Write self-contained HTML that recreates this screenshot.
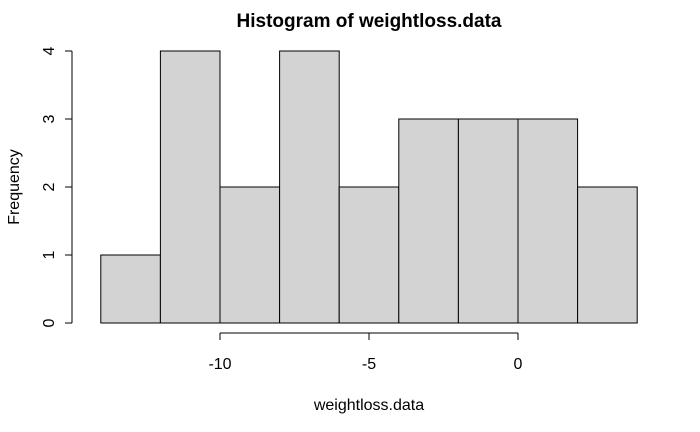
<!DOCTYPE html>
<html><head><meta charset="utf-8"><style>
body{margin:0;background:#fff}
svg{display:block;font-family:"Liberation Sans",Arial,sans-serif}
</style></head><body>
<svg id="chart" width="700" height="432" viewBox="0 0 700 432" xmlns="http://www.w3.org/2000/svg">
<text x="369" y="27" text-anchor="middle" font-size="19" font-weight="bold">Histogram of weightloss.data</text>
<text x="369" y="410" text-anchor="middle" font-size="16">weightloss.data</text>
<text transform="translate(19,187) rotate(-90)" text-anchor="middle" font-size="16">Frequency</text>
<g id="bars"></g>
<g id="xaxis"></g>
<g id="yaxis"></g>
</svg>
<script>
const binStarts = [-14,-12,-10,-8,-6,-4,-2,0,2];
const binWidth = 2;
const counts = [1,4,2,4,2,3,3,3,2];
const xTicks = [-10,-5,0];
const yTicks = [0,1,2,3,4];
const NS="http://www.w3.org/2000/svg";
function xs(v){return 518 + v*29.8;}
function ys(v){return 323 - v*68;}
function mk(tag,attrs,parent){const e=document.createElementNS(NS,tag);for(const k in attrs)e.setAttribute(k,attrs[k]);parent.appendChild(e);return e;}
const bars=document.getElementById('bars');
counts.forEach((c,i)=>{
  const x0=xs(binStarts[i]), x1=xs(binStarts[i]+binWidth);
  const r=mk('rect',{x:x0,y:ys(c),width:x1-x0,height:ys(0)-ys(c),fill:'#d3d3d3',stroke:'#000','stroke-width':1},bars);
  
  
});
const xa=document.getElementById('xaxis');
mk('line',{x1:xs(xTicks[0]),x2:xs(xTicks[xTicks.length-1]),y1:333,y2:333,stroke:'#000'},xa);
xTicks.forEach(t=>{
  mk('line',{x1:xs(t),x2:xs(t),y1:333,y2:340,stroke:'#000'},xa);
  const tx=mk('text',{x:xs(t),y:369,'text-anchor':'middle','font-size':16},xa);
  tx.textContent=String(t);
  
  
});
const ya=document.getElementById('yaxis');
mk('line',{x1:72,x2:72,y1:ys(yTicks[0]),y2:ys(yTicks[yTicks.length-1]),stroke:'#000'},ya);
yTicks.forEach(t=>{
  mk('line',{x1:65,x2:72,y1:ys(t),y2:ys(t),stroke:'#000'},ya);
  const tx=mk('text',{transform:`translate(54,${ys(t)}) rotate(-90)`,'text-anchor':'middle','font-size':16},ya);
  tx.textContent=t;
  
  
});
</script>
</body></html>
